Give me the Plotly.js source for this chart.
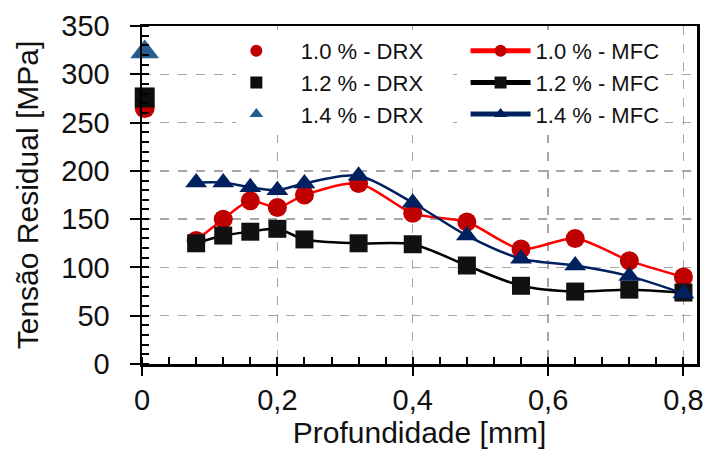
<!DOCTYPE html>
<html>
<head>
<meta charset="utf-8">
<script src="https://cdn.plot.ly/plotly-3.0.1.min.js"></script>
<style>html,body{margin:0;padding:0;background:#fff;}#chart{width:707px;height:449px;}</style>
</head>
<body>
<div id="chart"></div>
<script>
// Depth [mm]
const depth = [0.08, 0.12, 0.16, 0.20, 0.24, 0.32, 0.40, 0.48, 0.56, 0.64, 0.72, 0.80];
// MFC residual stress [MPa]
const mfc10 = [128, 150, 169, 162, 175, 187, 156, 147, 119, 130, 107, 90];
const mfc12 = [125, 133, 137, 140, 129, 125, 124, 102, 81, 75, 77, 74];
const mfc14 = [188, 188, 183, 180, 187, 195, 167, 133, 109, 102, 91, 73];
// DRX surface measurements
const drxDepth = [0.004];
const drx10 = [265];
const drx12 = [276];
const drx14 = [323];
const names = ['1.0 % - DRX', '1.0 % - MFC', '1.2 % - DRX', '1.2 % - MFC', '1.4 % - DRX', '1.4 % - MFC'];
const xTicks = [0, 0.2, 0.4, 0.6, 0.8];
const xTickText = ['0', '0,2', '0,4', '0,6', '0,8'];

const pad = '\u00a0\u00a0\u00a0\u00a0';
const tail = '\u00a0\u00a0\u00a0\u00a0';
const font = 'Liberation Sans, Arial, sans-serif';

const traces = [
  {x: drxDepth, y: drx10, name: pad + names[0] + tail, mode: 'markers', type: 'scatter', legend: 'legend', cliponaxis: false,
   marker: {symbol: 'circle', size: 20, color: '#c00000'}},
  {x: depth, y: mfc10, name: names[1], mode: 'lines+markers', type: 'scatter', legend: 'legend2',
   line: {color: '#ff0000', width: 2.5, shape: 'spline', smoothing: 0.8},
   marker: {symbol: 'circle', size: 19, color: '#c00000'}},
  {x: drxDepth, y: drx12, name: pad + names[2] + tail, mode: 'markers', type: 'scatter', legend: 'legend', cliponaxis: false,
   marker: {symbol: 'square', size: 20, color: '#0d0d0d'}},
  {x: depth, y: mfc12, name: names[3], mode: 'lines+markers', type: 'scatter', legend: 'legend2',
   line: {color: '#000000', width: 2.5, shape: 'spline', smoothing: 0.8},
   marker: {symbol: 'square', size: 18, color: '#111111'}},
  {x: drxDepth, y: drx14, name: pad + names[4] + tail, mode: 'markers', type: 'scatter', legend: 'legend', cliponaxis: false,
   marker: {symbol: 'triangle-up', size: 25, color: '#255e8f'}},
  {x: depth, y: mfc14, name: names[5], mode: 'lines+markers', type: 'scatter', legend: 'legend2',
   line: {color: '#002060', width: 2.5, shape: 'spline', smoothing: 0.8},
   marker: {symbol: 'triangle-up', size: 19, color: '#002060'}}
];

const legendFont = {family: font, size: 22, color: '#111111'};
const layout = {
  width: 707, height: 449,
  margin: {l: 142, r: 10, t: 26, b: 85},
  paper_bgcolor: '#ffffff', plot_bgcolor: '#ffffff',
  font: {family: font, color: '#111111'},
  showlegend: true,
  legend: {
    orientation: 'v', x: 0.17, y: 0.988, xanchor: 'left', yanchor: 'top',
    bgcolor: '#ffffff', borderwidth: 0, font: legendFont,
    itemsizing: 'constant', traceorder: 'normal'
  },
  legend2: {
    orientation: 'v', x: 0.583, y: 0.988, xanchor: 'left', yanchor: 'top',
    bgcolor: '#ffffff', borderwidth: 0, font: legendFont,
    itemsizing: 'constant', itemwidth: 60, traceorder: 'normal'
  },
  xaxis: {
    range: [0, 0.82], tickvals: xTicks, ticktext: xTickText,
    showline: true, linecolor: '#000', linewidth: 2.5, mirror: true,
    ticks: 'outside', ticklen: 9, tickwidth: 2, tickcolor: '#000',
    tickfont: {family: font, size: 29, color: '#111'},
    showgrid: true, gridcolor: '#a6a6a6', gridwidth: 1.5, griddash: 'dash',
    zeroline: false,
    minor: {dtick: 0.04, tick0: 0, ticks: 'inside', ticklen: 7, tickwidth: 2, tickcolor: '#000', showgrid: false},
    title: {text: 'Profundidade [mm]', font: {family: font, size: 30, color: '#111'}, standoff: 4}
  },
  yaxis: {
    range: [0, 350], dtick: 50, tick0: 0,
    showline: true, linecolor: '#000', linewidth: 2.5, mirror: true,
    ticks: 'outside', ticklen: 10, tickwidth: 2, tickcolor: '#000', ticklabelstandoff: 14,
    tickfont: {family: font, size: 29, color: '#111'},
    showgrid: true, gridcolor: '#a6a6a6', gridwidth: 1.5, griddash: 'dash',
    zeroline: false,
    minor: {dtick: 10, tick0: 0, ticks: 'inside', ticklen: 7, tickwidth: 2, tickcolor: '#000', showgrid: false},
    title: {text: 'Tensão Residual [MPa]', font: {family: font, size: 30, color: '#111'}, standoff: 14}
  }
};

Plotly.newPlot('chart', traces, layout, {displayModeBar: false, staticPlot: true});
</script>
</body>
</html>
